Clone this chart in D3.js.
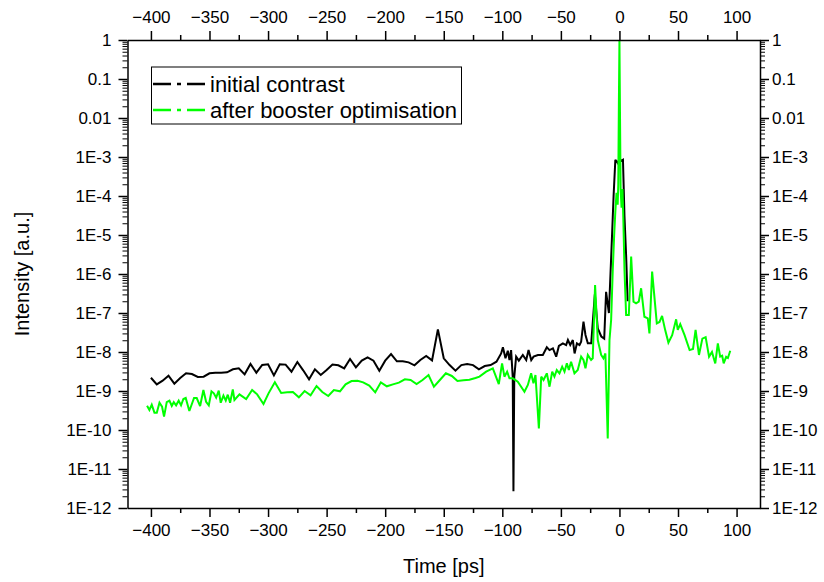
<!DOCTYPE html>
<html><head><meta charset="utf-8">
<script src="https://cdn.jsdelivr.net/npm/d3@7"></script>
<style>body{margin:0;background:#fff}svg{display:block}text{font-family:"Liberation Sans",Arial,sans-serif;fill:#000}</style>
</head><body>
<svg id="c" width="824" height="582"></svg>
<script>
const xTicks = [-400,-350,-300,-250,-200,-150,-100,-50,0,50,100];
const yTicks = [1,0.1,0.01,1e-3,1e-4,1e-5,1e-6,1e-7,1e-8,1e-9,1e-10,1e-11,1e-12];
const yTickLabels = ["1","0.1","0.01","1E-3","1E-4","1E-5","1E-6","1E-7","1E-8","1E-9","1E-10","1E-11","1E-12"];
const seriesNames = ["initial contrast","after booster optimisation"];
const seriesColors = ["#000000","#00ff00"];

const blackTime = [-400,-395,-390,-385,-380,-375,-370,-365,-360,-355,-350,-345,-340,-335,-330,-325,-320,-315,-310,-305,-300,-295,-290,-285,-280,-275,-270,-265,-260,-255,-250,-245,-240,-235,-230,-225,-220,-215,-210,-205,-200,-195,-190,-185,-180,-175,-170,-165,-160,-155,-150,-145,-140,-135,-130,-125,-120,
 -115,-110,-105,-101,-99.5,-97.3,-95.3,-93.9,-92.5,-91.1,-90.5,-89.8,-88.2,-85.9,-82.5,-79.6,-77.6,-75.3,-73.3,-69.6,-65.4,-62,-59.7,-56.8,-54,-51.7,-48.3,-45.5,-44,-42,-39.8,-38.3,-36.3,-34.1,-32.7,-30.7,-29,-27,-24.1,-21,-18.5,-15.5,-13,-11.4,-9,-7,-5,-3.5,-1.5,0,1.5,3,4.3,5.7,7];
const blackIntensity = [2.19e-9,1.48e-9,1.84e-9,2.47e-9,1.54e-9,2.15e-9,2.84e-9,2.73e-9,2.29e-9,2.33e-9,2.84e-9,2.95e-9,2.95e-9,3.01e-9,3.6e-9,3.81e-9,2.67e-9,4.92e-9,2.95e-9,4.65e-9,4.83e-9,2.52e-9,4.83e-9,4.75e-9,3.13e-9,5.54e-9,3.39e-9,1.99e-9,3.6e-9,2.57e-9,3.45e-9,4.75e-9,4.55e-9,3.81e-9,6.62e-9,4.05e-9,6.0e-9,7.3e-9,6.0e-9,3.32e-9,6.0e-9,8.88e-9,5.77e-9,5.77e-9,5.43e-9,4.55e-9,6.24e-9,7.89e-9,6.1e-9,3.81e-8,6.89e-9,4.62e-9,3.32e-9,4.62e-9,4.92e-9,4.62e-9,3.6e-9,
 4.37e-9,4.64e-9,5.65e-9,9.2e-9,1.32e-8,6.9e-9,1.08e-8,6.2e-9,1.12e-8,2.3e-9,2.7e-12,2.3e-9,7.6e-9,6.0e-9,8.4e-9,6.2e-9,1.12e-8,6.2e-9,7.6e-9,8.4e-9,8.4e-9,1.32e-8,1.12e-8,1.24e-8,7.6e-9,1.43e-8,1.67e-8,1.51e-8,2.03e-8,1.51e-8,2.03e-8,9.2e-9,1.67e-8,1.51e-8,1.84e-8,6.0e-8,2.73e-8,1.67e-8,1.67e-8,3.0e-7,4e-8,2.5e-8,2.2e-8,3.5e-7,1e-7,3e-6,1e-4,8.5e-4,7e-4,9e-4,8e-4,8.5e-4,3e-5,3e-6,2e-7];

const greenTime = [-403.3,-401.3,-399.3,-397,-395,-392.7,-390.5,-388.8,-386.5,-384.2,-382.2,-380.5,-378.5,-376.3,-374.3,-372.3,-370.3,-367.2,-363.2,-360.9,-358,-355.2,-352.9,-350.6,-348.3,-346.3,-344.3,-342.1,-340.4,-338.1,-336.1,-334.4,-332.4,-330.1,-328.7,-324.4,-318.7,-313.6,-309.3,-303.9,-299.6,-294.2,-288.8,-283.7,-278.8,-273.7,-268.8,-263.7,-258.6,-253.7,-248.6,-243.8,-238.6,-233.8,-228.7,-223.6,-218.8,-213.6,-208.5,-203.7,-198.6,-193.4,-188.3,-183.2,-178.3,-173.2,-168.1,-163,-158.4,-153.3,-148.2,-143.1,-138.3,-133.2,-128.1,-122.9,-119.5,
 -113.8,-108.1,-103,-100.2,-98.2,-95.9,-93.9,-91.1,-86.8,-81.1,-78.2,-75.4,-73.4,-71.7,-68.8,-66.8,-64.8,-62,-59.7,-57.4,-55.5,-53.5,-51.2,-48.9,-46.9,-44.9,-43.2,-41.3,-38.4,-35.6,-32.7,-30.7,-29,-27,-24.2,-22.8,-20.8,-18.5,-15.6,-13.7,-12,-10,-8.5,-7.1,-5.7,-4.5,-3.5,-2.5,-1.5,-1,-0.5,0,0.5,1,1.8,2.6,3.4,4.3,
 5.7,8,10,12,14.2,16.5,18.5,21.3,24.2,25.6,27.9,31.9,34.2,36.4,39,41.8,45,48.4,49.8,51.9,55.6,59.9,62.8,65,67.9,70.8,73.6,76.5,79,81.8,84,86,87.7,89,91.1,92.6,94.6];
const greenIntensity = [4.2e-10,3.26e-10,4.46e-10,2.78e-10,2.78e-10,5.0e-10,3.96e-10,2.2e-10,5.2e-10,5.65e-10,4.12e-10,5.2e-10,4.29e-10,5.65e-10,4.29e-10,6.24e-10,6.62e-10,3.07e-10,6.62e-10,6.62e-10,4.12e-10,1.06e-9,5.3e-10,4.29e-10,9.8e-10,8.7e-10,6.75e-10,1.02e-9,5.0e-10,7.6e-10,5.65e-10,8.05e-10,5.0e-10,1.1e-9,5.88e-10,8.2e-10,6.24e-10,1.06e-9,8.2e-10,4.65e-10,8.7e-10,1.67e-9,8.9e-10,9.25e-10,9.43e-10,6.88e-10,1.0e-9,7.74e-10,1.34e-9,9.43e-10,7.45e-10,1.06e-9,9.8e-10,1.48e-9,1.8e-9,1.84e-9,1.67e-9,1.37e-9,9.25e-10,1.67e-9,1.32e-9,1.48e-9,1.64e-9,1.99e-9,1.91e-9,1.51e-9,1.91e-9,2.57e-9,1.29e-9,1.91e-9,2.84e-9,2.43e-9,1.8e-9,1.88e-9,1.95e-9,2.15e-9,2.33e-9,
 3.13e-9,3.81e-9,1.51e-9,5.12e-9,2.33e-9,3.13e-9,2.11e-9,2.11e-9,1.73e-9,9.6e-10,1.43e-9,2.84e-9,1.57e-9,2.57e-9,1.1e-10,2.33e-9,1.91e-9,2.84e-9,1.29e-9,3.13e-9,2.33e-9,3.45e-9,2.84e-9,4.2e-9,3.13e-9,5.12e-9,3.45e-9,5.65e-9,2.84e-9,3.45e-9,7.6e-9,6.24e-9,3.81e-9,8.4e-9,6.24e-9,6.9e-9,5.2e-7,2.03e-8,8.4e-9,6.9e-9,9.2e-9,6.1e-11,2.03e-8,6.6e-8,1.27e-6,1e-5,4e-5,1.2e-4,6e-5,2e-4,0.02,1,0.01,1.5e-4,5e-5,1.5e-4,2e-5,1.27e-6,
 8.9e-8,8.9e-8,2.8e-6,1.95e-7,1.77e-7,1.95e-7,4.3e-7,8.0e-8,7.3e-8,3.0e-8,1.15e-6,5.4e-8,5.9e-8,8.4e-8,3.7e-8,1.74e-8,2.7e-8,6.9e-8,3.7e-8,5.2e-8,2.7e-8,1.12e-8,1.2e-8,3.7e-8,8.4e-9,2.2e-8,2.4e-8,7.6e-9,1.0e-8,5.1e-9,1.67e-8,7.6e-9,8.0e-9,5.1e-9,7.5e-9,7e-9,1.08e-8];

const svg = d3.select("#c");
const L = 127.5, R = 760, T = 40, B = 508;
const x = d3.scaleLinear().domain([-420, 120]).range([L, R]);
const y = d3.scaleLog().domain([1e-12, 1]).range([B, T]);

svg.append("defs").append("clipPath").attr("id","clip")
  .append("rect").attr("x",L).attr("y",T).attr("width",R-L).attr("height",B-T);

const line = d3.line().x(d => x(d[0])).y(d => y(d[1]));
const series = [d3.zip(blackTime, blackIntensity), d3.zip(greenTime, greenIntensity)];
const g = svg.append("g").attr("clip-path","url(#clip)");
series.forEach((s,i) => {
  g.append("path").datum(s).attr("d", line).attr("fill","none")
   .attr("stroke", seriesColors[i]).attr("stroke-width", 2).attr("stroke-linejoin","miter").attr("stroke-miterlimit",3);
});

// minor tick values
const xMinor = d3.range(-425, 126, 25).filter(v => v >= -420 && v <= 120 && v % 50 !== 0);
const yMinor = [];
for (let e = -12; e < 0; e++) for (let m = 2; m <= 9; m++) yMinor.push(m * Math.pow(10, e));

function styleAxis(sel){
  sel.select(".domain").attr("stroke","#000").attr("stroke-width",1.5);
  sel.selectAll(".tick line").attr("stroke","#000").attr("stroke-width",1.5);
  sel.selectAll(".tick text").style("font-size","17px").style("font-family",'"Liberation Sans",Arial,sans-serif');
}
// major/minor x axes
const xb = svg.append("g").attr("transform",`translate(0,${B})`)
  .call(d3.axisBottom(x).tickValues(xTicks).tickSize(9).tickPadding(7).tickSizeOuter(0).tickFormat(d3.format("d")));
styleAxis(xb);
svg.append("g").attr("transform",`translate(0,${B})`)
  .call(d3.axisBottom(x).tickValues(xMinor).tickSize(5).tickSizeOuter(0).tickFormat(""))
  .call(s => { s.select(".domain").remove(); s.selectAll("line").attr("stroke","#000").attr("stroke-width",1.5); });
const xt = svg.append("g").attr("transform",`translate(0,${T})`)
  .call(d3.axisTop(x).tickValues(xTicks).tickSize(9).tickPadding(8).tickSizeOuter(0).tickFormat(d3.format("d")));
styleAxis(xt);
svg.append("g").attr("transform",`translate(0,${T})`)
  .call(d3.axisTop(x).tickValues(xMinor).tickSize(5).tickSizeOuter(0).tickFormat(""))
  .call(s => { s.select(".domain").remove(); s.selectAll("line").attr("stroke","#000").attr("stroke-width",1.5); });

const fmtY = d => yTickLabels[yTicks.indexOf(d)];
const yl = svg.append("g").attr("transform",`translate(${L},0)`)
  .call(d3.axisLeft(y).tickValues(yTicks).tickSize(9).tickPadding(7).tickSizeOuter(0).tickFormat(fmtY));
styleAxis(yl);
svg.append("g").attr("transform",`translate(${L},0)`)
  .call(d3.axisLeft(y).tickValues(yMinor).tickSize(5).tickSizeOuter(0).tickFormat(""))
  .call(s => { s.select(".domain").remove(); s.selectAll("line").attr("stroke","#000").attr("stroke-width",1); });
const yr = svg.append("g").attr("transform",`translate(${R},0)`)
  .call(d3.axisRight(y).tickValues(yTicks).tickSize(9).tickPadding(3).tickSizeOuter(0).tickFormat(fmtY));
styleAxis(yr);
svg.append("g").attr("transform",`translate(${R},0)`)
  .call(d3.axisRight(y).tickValues(yMinor).tickSize(5).tickSizeOuter(0).tickFormat(""))
  .call(s => { s.select(".domain").remove(); s.selectAll("line").attr("stroke","#000").attr("stroke-width",1); });

// axis titles
svg.append("text").attr("x", (L+R)/2).attr("y", 573).attr("text-anchor","middle")
  .style("font-size","20px").text("Time [ps]");
svg.append("text").attr("transform",`translate(29,${(T+B)/2}) rotate(-90)`).attr("text-anchor","middle")
  .style("font-size","20px").text("Intensity [a.u.]");

// legend
const lg = svg.append("g");
lg.append("rect").attr("x",151.5).attr("y",67).attr("width",310).attr("height",57)
  .attr("fill","#fff").attr("stroke","#000").attr("stroke-width",1);
seriesNames.forEach((n,i) => {
  const yy = 84 + i*26;
  lg.append("line").attr("x1",153).attr("x2",205).attr("y1",yy).attr("y2",yy)
    .attr("stroke",seriesColors[i]).attr("stroke-width",2.5).attr("stroke-dasharray","18,6,4,6,18");
  lg.append("text").attr("x",210).attr("y",yy+8).style("font-size","22px").text(n);
});
</script>
</body></html>
